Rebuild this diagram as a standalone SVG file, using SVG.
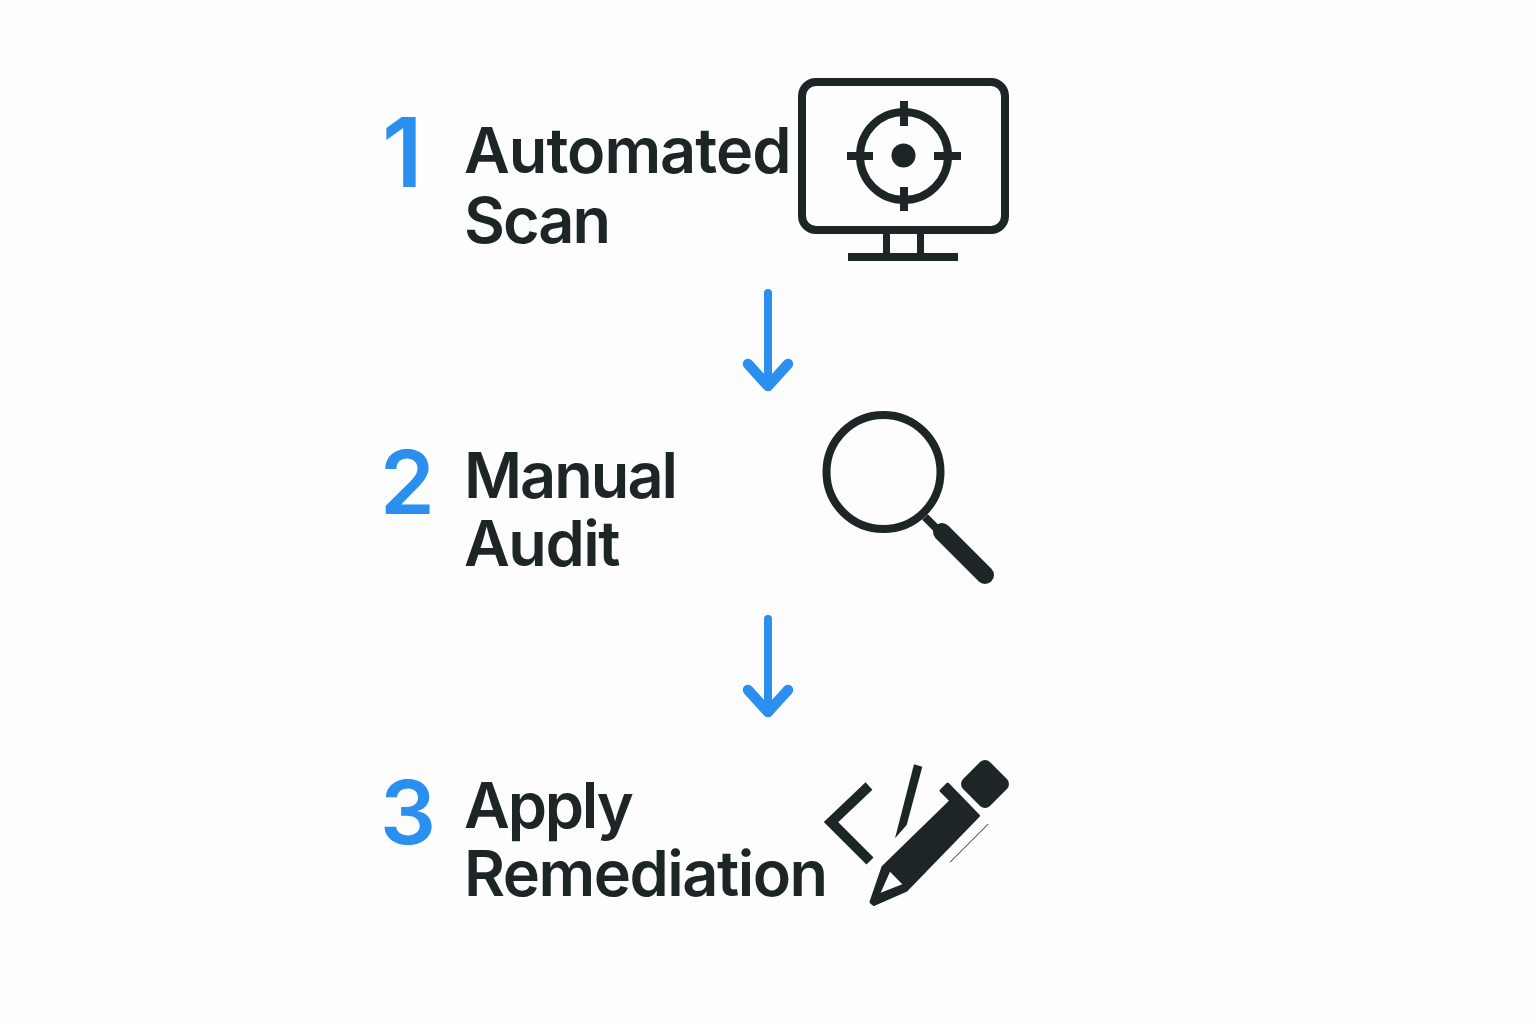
<svg xmlns="http://www.w3.org/2000/svg" width="1536" height="1024" viewBox="0 0 1536 1024">
<style>
.num{font-family:Inter,"Liberation Sans",sans-serif;font-size:88px;font-weight:600;fill:#2b8ff0}
.lbl{font-family:Inter,"Liberation Sans",sans-serif;font-size:63px;font-weight:600;fill:#1d2527;letter-spacing:-1.5px}
.ol{fill:none;stroke:#1d2527}
.fl{fill:#1d2527}
.arr{fill:none;stroke:#2b8ff0;stroke-linecap:round;stroke-linejoin:round}
</style>
<defs>
<g id="arrow"><path class="arr" stroke-width="8" d="M768 293V384"/><path class="arr" stroke-width="10.500" d="M748 364L768 386L788 364"/></g>
</defs>
<rect width="1536" height="1024" fill="#fdfdfd"/>
<g id="connectors">
<use href="#arrow"/>
<use href="#arrow" y="326"/>
</g>
<g id="step1">
<text class="num" x="382" y="186.500" style="font-size:96px">1</text>
<text class="lbl" x="464" y="173" letter-spacing="-1" style="letter-spacing:-1px">Automated</text>
<text class="lbl" x="464" y="243" style="letter-spacing:-2px">Scan</text>
<rect class="ol" x="802" y="82" width="203" height="148" rx="14" stroke-width="8"/>
<path class="ol" stroke-width="7" d="M886.500 234V254M920.500 234V254"/>
<rect class="fl" x="848" y="253" width="110" height="8"/>
<circle class="ol" cx="904" cy="156" r="44" stroke-width="8"/>
<circle class="fl" cx="903.500" cy="155.500" r="12"/>
<path class="ol" stroke-width="8" d="M904 101V126M904 187V211M847 156H873M934 156H961"/>
</g>
<g id="step2">
<text class="num" x="380" y="514">2</text>
<text class="lbl" x="464" y="498" style="letter-spacing:-2px">Manual</text>
<text class="lbl" x="464" y="566">Audit</text>
<circle class="ol" cx="883.500" cy="472" r="57" stroke-width="8"/>
<path class="ol" stroke-width="8" d="M925 517L943 535"/>
<path class="ol" stroke-width="18" stroke-linecap="round" d="M942 532L985 575"/>
</g>
<g id="step3">
<text class="num" x="380" y="844">3</text>
<text class="lbl" x="464" y="828" style="letter-spacing:-2.200px">Apply</text>
<text class="lbl" x="464" y="896">Remediation</text>
<path class="ol" stroke-width="10" d="M869 786L831 822L870 861"/>
<polygon class="fl" points="914,764.300 922.300,766.700 906.700,825 895,838.300"/>
<path class="fl" stroke="#1d2527" stroke-width="3" stroke-linejoin="round" d="M947.700 784L941 790.700L951 800.700L883 867L871 902L874 904.500L906 890.500L978.500 815.700Z"/>
<polygon points="890,871.700 902.300,884.300 880.700,892.700" fill="#fdfdfd"/>
<rect class="fl" x="966" y="765" width="38" height="38" rx="7" transform="rotate(45 985 784)"/>
<path class="ol" stroke-width="1" d="M988.300 824L950 862.300"/>
</g>
</svg>
